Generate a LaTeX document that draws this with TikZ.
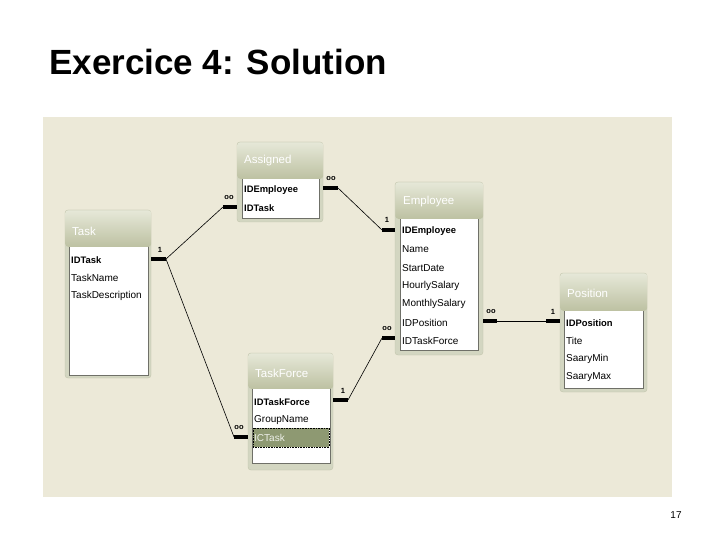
\documentclass[tikz,border=0pt]{standalone}
\usepackage{fontspec}
\setmainfont{Liberation Sans}
\usetikzlibrary{positioning}

\definecolor{panel}{HTML}{ECE9D8}
\definecolor{framefill}{HTML}{D3D6C1}
\definecolor{frameline}{HTML}{C2C5AB}
\definecolor{bandtop}{HTML}{E6E8D8}
\definecolor{bandbot}{HTML}{BDC1A2}
\definecolor{listline}{HTML}{6F7068}
\definecolor{selrow}{HTML}{8E9972}

\tikzset{
  tbl/.style={draw=frameline, rounded corners=3pt, fill=framefill, inner sep=0pt},
  band/.style={rounded corners=3pt, top color=bandtop, bottom color=bandbot},
  lst/.style={draw=listline, fill=white, inner sep=0pt},
  hdr/.style={anchor=west, inner sep=0pt, text=white, font=\fontsize{11.5}{13}\selectfont},
  fld/.style={anchor=west, inner sep=0pt, font=\fontsize{10}{12}\selectfont},
  keyfld/.style={fld, font=\fontsize{9.4}{12}\selectfont\bfseries},
  card/.style={inner sep=0pt, font=\fontsize{7.5}{8}\selectfont\bfseries},
  stub/.style={line width=3.5pt},
  rel/.style={line width=0.6pt}
}

\begin{document}
\begin{tikzpicture}[x=1pt,y=-1pt]
\useasboundingbox[fill=white] (0,0) rectangle (720,540);
\node[anchor=base west, inner sep=0pt, font=\fontsize{35}{40}\selectfont\bfseries] (title) at (49,75) {Exercice 4: Solution};
\fill[panel] (43,117) rectangle (672,497);

% Task
\node[tbl, minimum width=86pt, minimum height=168pt] (task) at (108,294) {};
\node[lst, minimum width=79pt, minimum height=129pt] (task-l) at (108.5,310.5) {};
\shade[band] ([shift={(0.5,0.5)}]task.north west) rectangle ([yshift=-1pt]task-l.north -| task.east);
\node[hdr] (task-h) at (72,231) {Task};
\node[keyfld] (task-1) at (71,260) {IDTask};
\node[fld] (task-2) at (71,278) {TaskName};
\node[fld] (task-3) at (71,296) {TaskDescription};

% Assigned
\node[tbl, minimum width=86pt, minimum height=80pt] (assigned) at (280,182) {};
\node[lst, minimum width=77pt, minimum height=40pt] (assigned-l) at (280.5,198) {};
\shade[band] ([shift={(0.5,0.5)}]assigned.north west) rectangle ([yshift=-1pt]assigned-l.north -| assigned.east);
\node[hdr] (assigned-h) at (244,161) {Assigned};
\node[keyfld] (assigned-1) at (244,190) {IDEmployee};
\node[keyfld] (assigned-2) at (244,208) {IDTask};

% Employee
\node[tbl, minimum width=88pt, minimum height=173pt] (employee) at (439,268.5) {};
\node[lst, minimum width=78pt, minimum height=132pt] (employee-l) at (439,284) {};
\shade[band] ([shift={(0.5,0.5)}]employee.north west) rectangle ([yshift=-1pt]employee-l.north -| employee.east);
\node[hdr] (employee-h) at (403,202) {Employee};
\node[keyfld] (employee-1) at (402,231) {IDEmployee};
\foreach \f [count=\i from 2] in {Name,StartDate,HourlySalary,MonthlySalary,IDPosition,IDTaskForce}
  \node[fld] (employee-\i) at (402,231+18.3*\i-18.3) {\f};

% Position
\node[tbl, minimum width=87pt, minimum height=119pt] (position) at (603.5,332.5) {};
\node[lst, minimum width=79pt, minimum height=78pt] (position-l) at (603.5,349) {};
\shade[band] ([shift={(0.5,0.5)}]position.north west) rectangle ([yshift=-1pt]position-l.north -| position.east);
\node[hdr] (position-h) at (567,293) {Position};
\node[keyfld] (position-1) at (566,323) {IDPosition};
\node[fld] (position-2) at (566,341) {Tite};
\node[fld] (position-3) at (566,359) {SaaryMin};
\node[fld] (position-4) at (566,377) {SaaryMax};

% TaskForce
\node[tbl, minimum width=85pt, minimum height=117pt] (taskforce) at (290.5,411.5) {};
\node[lst, minimum width=78pt, minimum height=75pt] (taskforce-l) at (291,425.5) {};
\shade[band] ([shift={(0.5,0.5)}]taskforce.north west) rectangle ([yshift=-1pt]taskforce-l.north -| taskforce.east);
\fill[selrow] (253,428) rectangle (329,447);
\draw[densely dotted, line width=0.6pt] (253,428) rectangle (329,447);
\node[hdr] (taskforce-h) at (255,373) {TaskForce};
\node[keyfld] (taskforce-1) at (254,402) {IDTaskForce};
\node[fld] (taskforce-2) at (254,420) {GroupName};
\node[fld, text=white!85!selrow] (taskforce-3) at (254,438) {ICTask};

% stubs
\coordinate (task-s) at (166,259);
\coordinate (assigned-sl) at (223,207);
\coordinate (assigned-sr) at (338,188);
\coordinate (employee-st) at (382,230);
\coordinate (employee-sb) at (382,338);
\coordinate (employee-sr) at (497,321);
\coordinate (position-s) at (546,321);
\coordinate (taskforce-sl) at (234,437);
\coordinate (taskforce-sr) at (348,400);

\draw[stub] (task-s -| task.east) -- (task-s);
\draw[stub] (assigned-sl) -- (assigned-sl -| assigned.west);
\draw[stub] (assigned-sr -| assigned.east) -- (assigned-sr);
\draw[stub] (employee-st) -- (employee-st -| employee.west);
\draw[stub] (employee-sb) -- (employee-sb -| employee.west);
\draw[stub] (employee-sr -| employee.east) -- (employee-sr);
\draw[stub] (position-s) -- (position-s -| position.west);
\draw[stub] (taskforce-sl) -- (taskforce-sl -| taskforce.west);
\draw[stub] (taskforce-sr -| taskforce.east) -- (taskforce-sr);

\node[card] (c1) at (160,250) {1};
\node[card] (c2) at (229,198) {oo};
\node[card] (c3) at (331,179) {oo};
\node[card] (c4) at (387,220) {1};
\node[card] (c5) at (387,329) {oo};
\node[card] (c6) at (491,312) {oo};
\node[card] (c7) at (553,312) {1};
\node[card] (c8) at (239,428) {oo};
\node[card] (c9) at (343,391) {1};

% relations
\draw[rel] (task-s) -- (assigned-sl);
\draw[rel] (task-s) -- (taskforce-sl);
\draw[rel] (assigned-sr) -- (employee-st);
\draw[rel] (taskforce-sr) -- (employee-sb);
\draw[rel] (employee-sr) -- (position-s);

\node[font=\fontsize{10}{12}\selectfont] (page) at (676,515) {17};
\end{tikzpicture}
\end{document}
